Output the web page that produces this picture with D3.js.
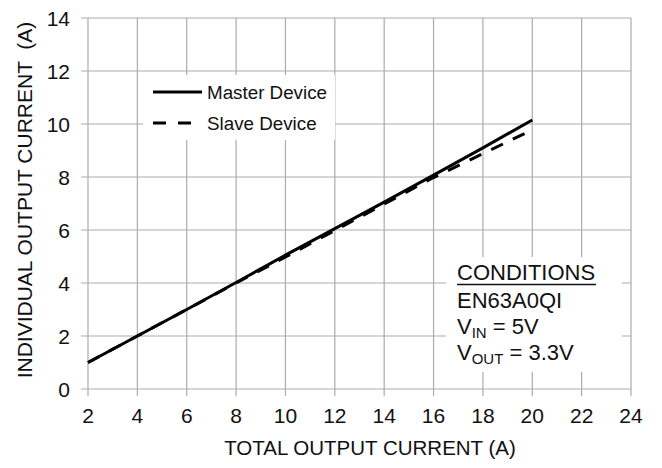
<!DOCTYPE html>
<html><head><meta charset="utf-8">
<script src="https://cdn.jsdelivr.net/npm/d3@7"></script>
<style>body{margin:0;background:#fff}svg{display:block;font-family:"Liberation Sans",Arial,sans-serif}</style>
</head><body><svg id="c" width="662" height="468"></svg>
<script>
const totalCurrent = [2,4,6,8,10,12,14,16,18,20];
const masterCurrent = [1.0,2.0,3.0,4.02,5.05,6.05,7.05,8.07,9.1,10.15];
const slaveCurrent  = [1.0,2.0,3.0,4.0,4.98,5.98,6.98,7.98,8.88,9.78];
const xTicks = [2,4,6,8,10,12,14,16,18,20,22,24];
const yTicks = [0,2,4,6,8,10,12,14];
const seriesNames = ["Master Device","Slave Device"];

const svg = d3.select("#c");
const x = d3.scaleLinear().domain([2,24]).range([88,631]);
const y = d3.scaleLinear().domain([0,14]).range([389,18]);
const grid = "#ababab";

// grid
svg.append("g").selectAll("line").data(xTicks).join("line")
  .attr("x1",d=>x(d)).attr("x2",d=>x(d)).attr("y1",y(14)).attr("y2",y(0)+7)
  .attr("stroke",grid).attr("stroke-width",1.2);
svg.append("g").selectAll("line").data(yTicks).join("line")
  .attr("x1",x(2)-7).attr("x2",x(24)).attr("y1",d=>y(d)).attr("y2",d=>y(d))
  .attr("stroke",grid).attr("stroke-width",1.2);

// tick labels
svg.append("g").selectAll("text").data(xTicks).join("text")
  .attr("x",d=>x(d)).attr("y",423).attr("text-anchor","middle")
  .attr("font-size",21).attr("fill","#111").text(d=>d);
svg.append("g").selectAll("text").data(yTicks).join("text")
  .attr("x",70).attr("y",d=>y(d)+7.5).attr("text-anchor","end")
  .attr("font-size",21).attr("fill","#111").text(d=>d);

// axis titles
svg.append("text").attr("x",370).attr("y",455).attr("text-anchor","middle")
  .attr("font-size",20.5).attr("fill","#111").text("TOTAL OUTPUT CURRENT (A)");
svg.append("text").attr("transform","translate(32,200) rotate(-90)").attr("text-anchor","middle")
  .attr("font-size",21).attr("fill","#111").attr("xml:space","preserve").text("INDIVIDUAL OUTPUT CURRENT  (A)");

// white boxes
svg.append("rect").attr("x",143).attr("y",75).attr("width",192).attr("height",65).attr("fill","#fff");
svg.append("rect").attr("x",446).attr("y",257).attr("width",176).attr("height",115).attr("fill","#fff");

// lines
const line = d3.line().x(d=>x(d[0])).y(d=>y(d[1]));
svg.append("path").datum(totalCurrent.map((t,i)=>[t,slaveCurrent[i]]))
  .attr("d",line).attr("fill","none").attr("stroke","#000").attr("stroke-width",3)
  .attr("stroke-dasharray","13,11");
svg.append("path").datum(totalCurrent.map((t,i)=>[t,masterCurrent[i]]))
  .attr("d",line).attr("fill","none").attr("stroke","#000").attr("stroke-width",3);

// legend
svg.append("line").attr("x1",153).attr("x2",202).attr("y1",92).attr("y2",92).attr("stroke","#000").attr("stroke-width",3);
svg.append("line").attr("x1",153).attr("x2",192).attr("y1",123).attr("y2",123).attr("stroke","#000").attr("stroke-width",3).attr("stroke-dasharray","13,12");
svg.append("text").attr("x",207).attr("y",99).attr("font-size",18.8).attr("fill","#111").text(seriesNames[0]);
svg.append("text").attr("x",207).attr("y",130).attr("font-size",18.8).attr("fill","#111").text(seriesNames[1]);

// conditions
const cx = 457;
svg.append("text").attr("x",cx).attr("y",280).attr("font-size",22).attr("fill","#111").text("CONDITIONS");
svg.append("line").attr("x1",cx).attr("x2",596).attr("y1",284.5).attr("y2",284.5).attr("stroke","#111").attr("stroke-width",1.5);
svg.append("text").attr("x",cx).attr("y",308).attr("font-size",22).attr("fill","#111").text("EN63A0QI");
const t1 = svg.append("text").attr("x",cx).attr("y",334).attr("font-size",22).attr("fill","#111");
t1.append("tspan").text("V");
t1.append("tspan").attr("font-size",15).attr("dy",4).text("IN");
t1.append("tspan").attr("dy",-4).text(" = 5V");
const t2 = svg.append("text").attr("x",cx).attr("y",360).attr("font-size",22).attr("fill","#111");
t2.append("tspan").text("V");
t2.append("tspan").attr("font-size",15).attr("dy",4).text("OUT");
t2.append("tspan").attr("dy",-4).text(" = 3.3V");
</script></body></html>
